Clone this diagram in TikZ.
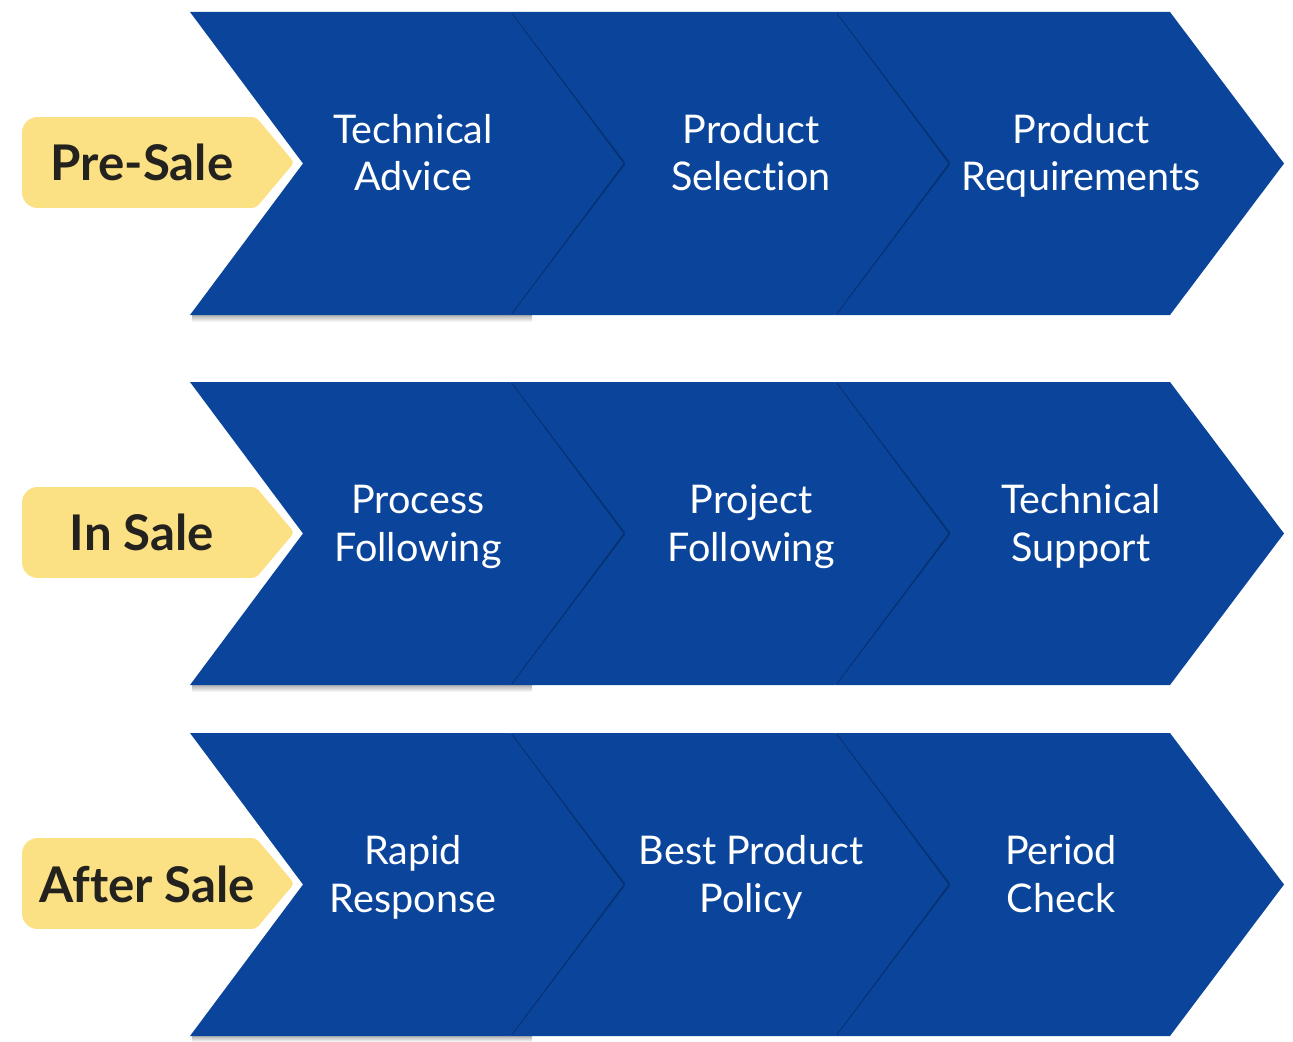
\documentclass[tikz,border=0pt]{standalone}
\usepackage{fontspec}
\setmainfont{Lato}[Ligatures=NoCommon]
\definecolor{chevblue}{HTML}{0A449B}
\definecolor{seamblue}{HTML}{052F6E}
\definecolor{tagyellow}{HTML}{FBE183}
\definecolor{tagtext}{HTML}{23221E}
\tikzset{
  chevron/.style={fill=chevblue},
  seam/.style={draw=seamblue, line width=2.6pt, opacity=0.8, line join=round},
  rowshadow/.style={top color=black!30, bottom color=white},
  stagetag/.style={fill=tagyellow, draw=white, line width=2.2pt},
  steptext/.style={text=white, align=center, anchor=base,
    font=\fontsize{22.5}{27.2}\selectfont},
  tagtextstyle/.style={text=tagtext, anchor=base,
    font=\fontsize{28}{34}\selectfont\bfseries}
}
\begin{document}
\begin{tikzpicture}[x=0.2mm, y=-0.2mm]
  \useasboundingbox (0,0) rectangle (1293,1042);

  \shade[rowshadow] (192,315) rectangle (532,322);
  \shade[rowshadow] (192,685) rectangle (532,692);
  \shade[rowshadow] (192,1036) rectangle (532,1042);

  \fill[chevron] (835,12) -- (1170,12) -- (1284,163.5) -- (1170,315) -- (835,315) -- (948,163.5) -- cycle;
  \draw[seam] (835,14) -- (948,163.5) -- (835,313);
  \fill[chevron] (510,12) -- (835,12) -- (948,163.5) -- (835,315) -- (510,315) -- (623,163.5) -- cycle;
  \draw[seam] (510,14) -- (623,163.5) -- (510,313);
  \fill[chevron] (190,12) -- (510,12) -- (623,163.5) -- (510,315) -- (190,315) -- (303,163.5) -- cycle;

  \fill[chevron] (835,382) -- (1170,382) -- (1284,533.5) -- (1170,685) -- (835,685) -- (948,533.5) -- cycle;
  \draw[seam] (835,384) -- (948,533.5) -- (835,683);
  \fill[chevron] (510,382) -- (835,382) -- (948,533.5) -- (835,685) -- (510,685) -- (623,533.5) -- cycle;
  \draw[seam] (510,384) -- (623,533.5) -- (510,683);
  \fill[chevron] (190,382) -- (510,382) -- (623,533.5) -- (510,685) -- (190,685) -- (303,533.5) -- cycle;

  \fill[chevron] (835,733) -- (1170,733) -- (1284,884.5) -- (1170,1036) -- (835,1036) -- (948,884.5) -- cycle;
  \draw[seam] (835,735) -- (948,884.5) -- (835,1034);
  \fill[chevron] (510,733) -- (835,733) -- (948,884.5) -- (835,1036) -- (510,1036) -- (623,884.5) -- cycle;
  \draw[seam] (510,735) -- (623,884.5) -- (510,1034);
  \fill[chevron] (190,733) -- (510,733) -- (623,884.5) -- (510,1036) -- (190,1036) -- (303,884.5) -- cycle;

  \filldraw[stagetag] (140,115) [rounded corners=3] -- (257,115) -- (297,162.5) -- (257,210) [rounded corners=10] -- (20,210) -- (20,115) -- cycle;
  \filldraw[stagetag] (140,485) [rounded corners=3] -- (257,485) -- (297,532.5) -- (257,580) [rounded corners=10] -- (20,580) -- (20,485) -- cycle;
  \filldraw[stagetag] (140,836) [rounded corners=3] -- (257,836) -- (297,883.5) -- (257,931) [rounded corners=10] -- (20,931) -- (20,836) -- cycle;

  \node[tagtextstyle] (presale) at (142,180) {Pre-Sale};
  \node[tagtextstyle] (insale) at (142,550) {In Sale};
  \node[tagtextstyle] (aftersale) at (147,902) {After Sale};

  \node[steptext] (techadvice) at (413,191) {Technical\\Advice};
  \node[steptext] (prodselect) at (751,191) {Product\\Selection};
  \node[steptext] (prodreq) at (1081,191) {Product\\Requirements};

  \node[steptext] (processfollow) at (418,561) {Process\\Following};
  \node[steptext] (projectfollow) at (751,561) {Project\\Following};
  \node[steptext] (techsupport) at (1081,561) {Technical\\Support};

  \node[steptext] (rapidresp) at (413,912) {Rapid\\Response};
  \node[steptext] (bestpolicy) at (751,912) {Best Product\\Policy};
  \node[steptext] (periodcheck) at (1061,912) {Period\\Check};
\end{tikzpicture}
\end{document}
